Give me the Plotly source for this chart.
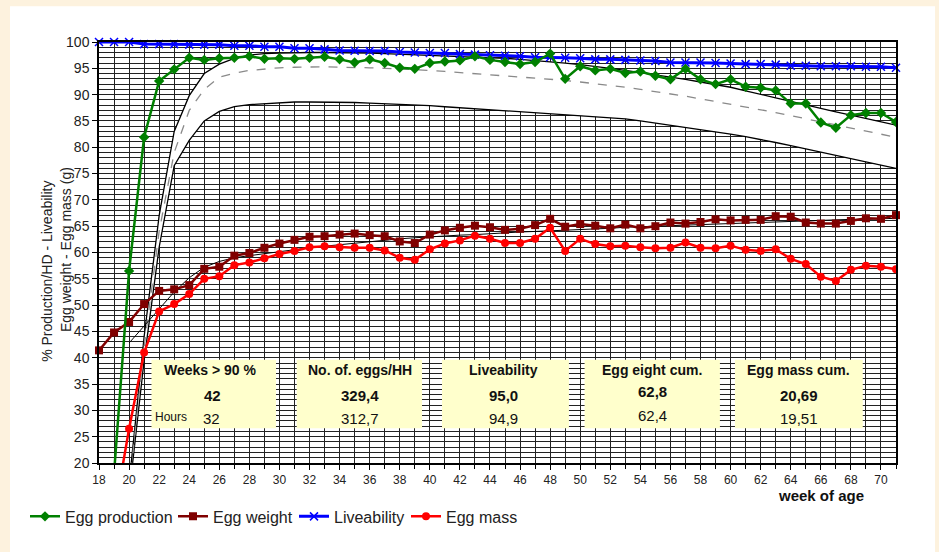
import plotly.graph_objects as go

# ---------------- data ----------------
weeks = list(range(18, 72))
std_weeks = list(range(20, 72))

egg_production = [None, 18, 56.5, 81.9, 92.6, 94.8, 97.0, 96.6, 96.9, 97.0,
                  97.3, 96.8, 96.9, 96.8, 97.0, 97.2, 96.7, 96.1, 96.7, 96.0,
                  95.1, 94.9, 96.0, 96.3, 96.5, 97.3, 96.6, 96.2, 95.8, 96.2,
                  97.8, 93.0, 95.4, 94.6, 94.9, 94.1, 94.4, 93.6, 92.9, 94.9,
                  92.9, 92.0, 92.9, 91.5, 91.3, 90.8, 88.3, 88.3, 84.7, 83.7,
                  86.1, 86.5, 86.5, 84.8]

egg_weight = [41.4, 44.8, 46.8, 50.2, 52.7, 53.0, 53.8, 56.9, 57.3, 59.4,
              59.9, 60.9, 61.7, 62.4, 63.0, 63.1, 63.4, 63.6, 63.3, 63.1,
              62.1, 61.8, 63.4, 64.2, 64.7, 65.1, 64.8, 64.3, 64.5, 65.2,
              66.4, 64.9, 65.4, 65.1, 64.6, 65.3, 64.6, 65.0, 65.7, 65.5,
              65.8, 66.3, 66.1, 66.2, 66.2, 66.9, 66.8, 65.7, 65.5, 65.5,
              66.0, 66.5, 66.4, 67.1]

liveability = [100, 100, 100, 99.6, 99.6, 99.6, 99.5, 99.5, 99.5, 99.3,
               99.3, 99.1, 99.1, 98.8, 98.8, 98.6, 98.4, 98.35, 98.3, 98.3,
               98.1, 98.0, 97.9, 97.9, 97.7, 97.6, 97.5, 97.4, 97.3, 97.1,
               97.1, 97.0, 96.9, 96.7, 96.7, 96.6, 96.5, 96.4, 96.1, 96.1,
               96.1, 96.0, 95.9, 95.8, 95.8, 95.7, 95.5, 95.5, 95.4, 95.4,
               95.4, 95.3, 95.3, 95.1]

egg_mass = [None, 10, 26.5, 41.0, 48.8, 50.2, 52.1, 55.0, 55.5, 57.6,
            58.1, 58.9, 59.7, 60.3, 61.0, 61.2, 61.0, 60.9, 60.9, 60.4,
            59.0, 58.6, 60.6, 61.7, 62.3, 63.2, 62.6, 61.8, 61.8, 62.6,
            64.7, 60.3, 62.6, 61.6, 61.2, 61.3, 61.0, 60.8, 60.9, 61.9,
            60.9, 60.8, 61.3, 60.5, 60.3, 60.6, 58.8, 57.8, 55.4, 54.6,
            56.7, 57.5, 57.3, 56.8]

# standard curves (weeks 20..71)
std_upper = [16, 44, 67, 83, 89.8, 94.0, 95.8, 96.9, 97.5, 97.8,
             97.9, 98.0, 98.0, 98.0, 98.0, 97.9, 97.9, 97.8, 97.7, 97.6,
             97.5, 97.4, 97.3, 97.2, 97.0, 96.9, 96.7, 96.5, 96.3, 96.0,
             95.7, 95.4, 95.0, 94.6, 94.2, 93.8, 93.4, 92.9, 92.4, 91.9,
             91.4, 90.7, 90.1, 89.4, 88.7, 88.0, 87.4, 86.7, 86.1, 85.5,
             84.9, 84.2]
std_mid = [15, 42, 64, 79, 87, 91, 93.3, 94.1, 94.6, 94.9,
           95.1, 95.2, 95.3, 95.3, 95.2, 95.2, 95.1, 95.0, 94.9, 94.8,
           94.6, 94.4, 94.2, 94.0, 93.8, 93.6, 93.4, 93.2, 93.0, 92.7,
           92.4, 92.1, 91.8, 91.4, 91.0, 90.6, 90.2, 89.7, 89.2, 88.7,
           88.2, 87.7, 87.2, 86.6, 86.0, 85.4, 84.8, 84.2, 83.6, 83.0,
           82.5, 81.9]
std_lower = [14, 39.5, 61, 76.5, 81.3, 85.0, 86.8, 87.7, 88.1, 88.3,
             88.5, 88.6, 88.6, 88.6, 88.6, 88.5, 88.4, 88.3, 88.2, 88.0,
             87.9, 87.7, 87.5, 87.3, 87.1, 86.9, 86.7, 86.5, 86.3, 86.1,
             86.0, 85.8, 85.6, 85.4, 85.0, 84.6, 84.2, 83.8, 83.4, 83.0,
             82.5, 82.0, 81.5, 80.9, 80.3, 79.7, 79.1, 78.5, 77.9, 77.3,
             76.7, 76.0]
std_weight = [42.8, 46.0, 49.1, 52.5, 55.2, 57.2, 58.3, 59.0, 59.4, 59.8,
              60.2, 60.5, 60.9, 61.2, 61.5, 61.8, 62.1, 62.4, 62.6, 62.8,
              63.0, 63.1, 63.3, 63.4, 63.6, 63.7, 63.9, 64.0, 64.1, 64.2,
              64.3, 64.5, 64.6, 64.8, 64.9, 65.1, 65.2, 65.3, 65.4, 65.5,
              65.6, 65.7, 65.8, 65.9, 66.0, 66.0, 66.1, 66.2, 66.3, 66.3,
              66.4, 66.5]

box_titles = ["Weeks > 90 %", "No. of. eggs/HH", "Liveability", "Egg eight cum.", "Egg mass cum."]
box_values = ["42", "329,4", "95,0", "62,8", "20,69"]
box_std = ["32", "312,7", "94,9", "62,4", "19,51"]
hours_label = "Hours"

# ---------------- layout constants ----------------
FONT = "Liberation Sans, Arial, sans-serif"
CREAM = "#FDF2DE"
box_x = [(21.49, 29.77), (31.15, 39.48), (40.81, 49.25), (50.29, 59.29), (60.29, 68.79)]
box_cx = [25.4, 35.33, 44.92, 54.79, 64.53]
box_y = (26.6, 39.6)

fig = go.Figure()

# standard production band (white fill between lower and upper)
fig.add_trace(go.Scatter(x=std_weeks, y=std_lower, mode="lines",
                         line=dict(color="black", width=1.3), showlegend=False, hoverinfo="skip"))
fig.add_trace(go.Scatter(x=std_weeks, y=std_upper, mode="lines", fill="tonexty", fillcolor="white",
                         line=dict(color="black", width=1.3), showlegend=False, hoverinfo="skip"))
fig.add_trace(go.Scatter(x=std_weeks, y=std_mid, mode="lines",
                         line=dict(color="#8a8a8a", width=1.3, dash="dash"), showlegend=False, hoverinfo="skip"))
fig.add_trace(go.Scatter(x=std_weeks, y=std_weight, mode="lines",
                         line=dict(color="black", width=1), showlegend=False, hoverinfo="skip"))

# data series (each in its own legend so entries can be placed like the original)
fig.add_trace(go.Scatter(x=weeks, y=liveability, mode="lines+markers", name="Liveability",
                         legend="legend3", cliponaxis=False,
                         line=dict(color="#0000FF", width=3),
                         marker=dict(symbol="x-thin-open", size=8, line=dict(color="#0000FF", width=1.5))))
fig.add_trace(go.Scatter(x=weeks, y=egg_mass, mode="lines+markers", name="Egg mass",
                         legend="legend4",
                         line=dict(color="#FF0000", width=2.5),
                         marker=dict(symbol="circle", size=8, color="#FF0000")))
fig.add_trace(go.Scatter(x=weeks, y=egg_weight, mode="lines+markers", name="Egg weight",
                         legend="legend2", cliponaxis=False,
                         line=dict(color="#800000", width=2.5),
                         marker=dict(symbol="square", size=8, color="#800000")))
fig.add_trace(go.Scatter(x=weeks, y=egg_production, mode="lines+markers", name="Egg production",
                         legend="legend",
                         line=dict(color="#008000", width=2.5),
                         marker=dict(symbol="diamond", size=8, color="#008000")))

shapes = [dict(type="rect", xref="paper", yref="paper", x0=-0.1117, x1=1.049, y0=-0.25, y1=1.0847,
               fillcolor="white", line=dict(width=0), layer="below")]
for (x0, x1) in box_x:
    shapes.append(dict(type="rect", xref="x", yref="y", x0=x0, x1=x1, y0=box_y[0], y1=box_y[1],
                       fillcolor="#FFFFCC", line=dict(width=0), layer="above"))

annotations = []
for i in range(5):
    cx = box_cx[i]
    annotations.append(dict(x=cx, y=37.6, xref="x", yref="y", text="<b>%s</b>" % box_titles[i],
                            showarrow=False, font=dict(family=FONT, size=14, color="#111")))
    annotations.append(dict(x=cx + (0.15 if i == 0 else 0), y=32.8 if i != 3 else 33.5, xref="x", yref="y",
                            text="<b>%s</b>" % box_values[i],
                            showarrow=False, font=dict(family=FONT, size=15, color="#111")))
    annotations.append(dict(x=cx + (0.1 if i == 0 else 0), y=28.5 if i != 3 else 29.1, xref="x", yref="y",
                            text=box_std[i],
                            showarrow=False, font=dict(family=FONT, size=15, color="#111")))
annotations.append(dict(x=21.56, y=28.7, xref="x", yref="y", text=hours_label, xanchor="left",
                        showarrow=False, font=dict(family=FONT, size=12, color="#111")))

# axis titles
annotations.append(dict(x=-0.078, y=0.456, xref="paper", yref="paper", text="% Production/HD - Liveability",
                        textangle=-90, showarrow=False, font=dict(family=FONT, size=14, color="#222")))
annotations.append(dict(x=-0.054, y=0.508, xref="paper", yref="paper", text="Egg weight - Egg mass (g)",
                        textangle=-90, showarrow=False, font=dict(family=FONT, size=14, color="#222")))
annotations.append(dict(x=0.962, y=-0.078, xref="paper", yref="paper", text="<b>week of age</b>",
                        xanchor="right", yanchor="middle", showarrow=False,
                        font=dict(family=FONT, size=15, color="#111")))

def leg(xpx):
    return dict(orientation="h", x=(xpx - 99) / 797, xanchor="left", y=-0.127, yanchor="middle",
                font=dict(family=FONT, size=16, color="#222"), bgcolor="rgba(0,0,0,0)")

fig.update_layout(
    width=939, height=552, autosize=False,
    margin=dict(l=99, r=43, t=42, b=89, autoexpand=False),
    paper_bgcolor=CREAM, plot_bgcolor="white",
    font=dict(family=FONT, color="#222"),
    shapes=shapes, annotations=annotations,
    legend=leg(25), legend2=leg(173), legend3=leg(294), legend4=leg(406),
    xaxis=dict(range=[18, 71], tick0=18, dtick=2, ticks="outside", ticklen=5, tickcolor="black",
               showgrid=True, gridcolor="#222", gridwidth=1,
               minor=dict(dtick=1, tick0=18, showgrid=True, gridcolor="#222", gridwidth=1,
                          ticks="outside", ticklen=4, tickcolor="black"),
               showline=True, linecolor="black", linewidth=1.5, mirror=True, zeroline=False,
               tickfont=dict(family=FONT, size=12, color="#222")),
    yaxis=dict(range=[20, 100], tick0=20, dtick=5, ticks="outside", ticklen=5, tickcolor="black",
               showgrid=True, gridcolor="#222", gridwidth=1,
               minor=dict(dtick=1, showgrid=True, gridcolor="#222", gridwidth=1),
               showline=True, linecolor="black", linewidth=1.5, mirror=True, zeroline=False,
               tickfont=dict(family=FONT, size=14, color="#222")),
)

fig.write_html("out.html", config={"displayModeBar": False},
               post_script="document.body.style.margin='0px';document.body.style.backgroundColor='%s';" % CREAM)
